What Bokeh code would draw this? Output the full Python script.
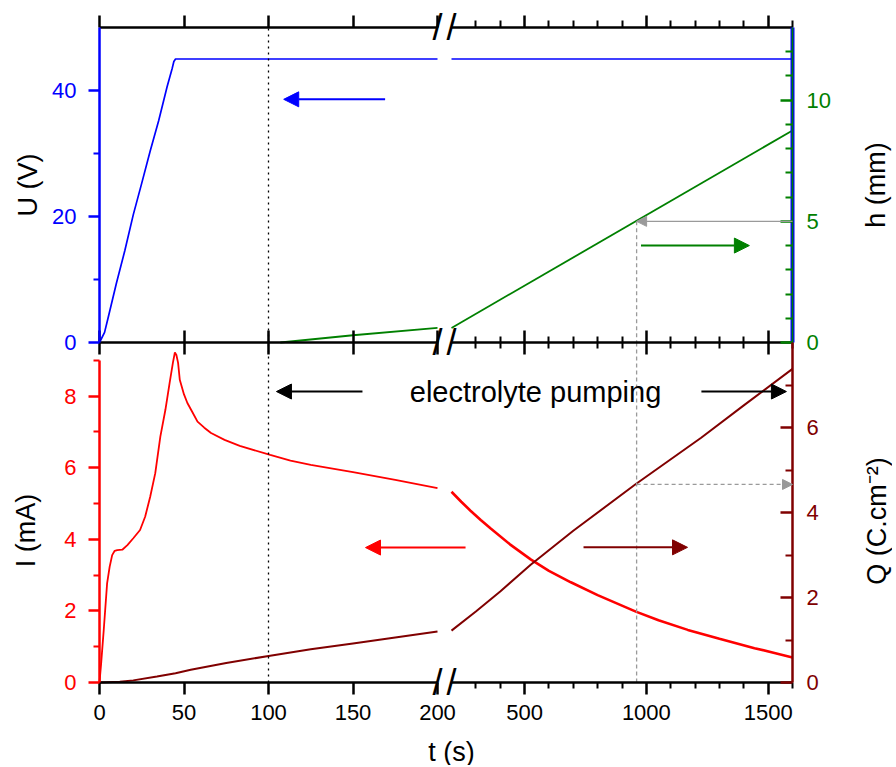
import math
from bokeh.plotting import figure
from bokeh.models import Range1d, LinearAxis, FixedTicker, Arrow, NormalHead, Label
from bokeh.embed import file_html
from bokeh.resources import INLINE

# ---------------- data ----------------
# U (V), blue
U_t_left = [0, 3, 5, 10, 15, 20, 25, 30, 35, 40, 43, 44, 45, 200]
U_left = [0.0, 1.6, 3.8, 9.4, 14.6, 20.3, 25.3, 30.4, 35.2, 40.6, 43.5, 44.6, 45.0, 45.0]
U_t_right = [200, 1600]
U_right = [45.0, 45.0]

# h (mm), green
h_t_left = [107, 150, 200]
h_left = [0.0, 0.30, 0.60]
h_t_right = [200, 1600]
h_right = [0.60, 8.75]

# I (mA), red
I_t_left = [0, 1, 2.5, 4.5, 6, 7.5, 9, 10.5, 13.5, 16.5, 20, 24, 27, 30, 33, 36, 39,
            41.5, 43.5, 44.6, 45.5, 46.5, 47.5, 50, 52, 55, 58, 62, 66, 74, 83, 101,
            113, 125, 150, 175, 200]
I_left = [0.0, 0.55, 1.46, 2.77, 3.23, 3.56, 3.68, 3.70, 3.71, 3.84, 4.03, 4.26, 4.63,
          5.19, 5.85, 6.87, 7.62, 8.37, 8.95, 9.22, 9.15, 8.93, 8.46, 8.05, 7.81, 7.55,
          7.29, 7.12, 6.97, 6.78, 6.61, 6.36, 6.20, 6.08, 5.88, 5.66, 5.43]
I_t_right = [200, 240, 278, 320, 361, 440, 525, 600, 690, 800, 957, 1050, 1170, 1300,
             1444, 1530, 1600]
I_right = [5.33, 5.05, 4.80, 4.54, 4.30, 3.86, 3.44, 3.12, 2.80, 2.44, 1.98, 1.74, 1.47,
           1.22, 0.96, 0.82, 0.70]

# Q (C.cm-2), dark red
Q_t_left = [0, 12, 20, 34, 45, 54, 75, 101, 125, 150, 175, 200]
Q_left = [0.0, 0.02, 0.05, 0.14, 0.22, 0.30, 0.46, 0.63, 0.78, 0.92, 1.06, 1.20]
Q_t_right = [200, 300, 400, 525, 700, 957, 1225, 1400, 1600]
Q_right = [1.22, 1.67, 2.14, 2.77, 3.57, 4.67, 5.76, 6.52, 7.38]

# ticks
x_ticks_left = [0, 50, 100, 150, 200]
x_ticks_right = [500, 1000, 1500]
x_minor_right = [300, 400, 600, 700, 800, 900, 1100, 1200, 1300, 1400, 1600]
U_ticks, U_minor = [0, 20, 40], [10, 30]
h_ticks, h_minor = [0, 5, 10], [1, 2, 3, 4, 6, 7, 8, 9, 11, 12]
I_ticks, I_minor = [0, 2, 4, 6, 8], [1, 3, 5, 7, 9]
Q_ticks, Q_minor = [0, 2, 4, 6], [1, 3, 5, 7]

# axis extents (data units)
T_LEFT = (0, 200)
T_RIGHT = (200, 1600)
U_LIM, H_LIM, I_LIM, Q_LIM = (0, 50), (0, 13), (0, 9.5), (0, 8)

# annotation anchors (data units)
T_PUMP_START = 100
T_REF, H_REF, Q_REF = 960, 5.0, 4.66
ARROW_U = (169, 109, 38.6)          # left scale, U
ARROW_H = (978, 1423, 4.0)          # right segment, h
ARROW_I = (216.6, 157.4, 3.77)      # left scale, I
ARROW_Q = (742, 1169, 3.18)         # right segment, Q
PUMP_LEFT = (155.6, 104.7, 8.13)    # left scale, I
PUMP_RIGHT = (1226, 1575, 8.13)     # right segment, I
PUMP_TEXT = (545, 8.13)             # right segment, I

# ---------------- layout (pixels) ----------------
FONT = "Liberation Sans"
BLUE, GREEN, RED, DARKRED, GREY = "#0000FF", "#008000", "#FF0000", "#800000", "#9a9a9a"
CANVAS_W, CANVAS_H = 892, 765
BOX_L, BOX_R, BOX_T, BOX_MID, BOX_B = 99, 792, 27, 342, 682
SEG_L_END, SEG_R_START = 437, 451


def xrange_from(v0, px0, v1, px1):
    s = (px1 - px0) / (v1 - v0)
    return Range1d(v0 - px0 / s, v1 + (CANVAS_W - px1) / s)


def yrange_from(v0, py0, v1, py1):
    s = (py0 - py1) / (v1 - v0)
    return Range1d(v0 - (CANVAS_H - py0) / s, v1 + py1 / s)


p = figure(width=CANVAS_W, height=CANVAS_H, title=None,
           x_range=xrange_from(T_LEFT[0], BOX_L, T_LEFT[1], SEG_L_END),
           y_range=yrange_from(U_LIM[0], BOX_MID, U_LIM[1], BOX_T),
           x_axis_location=None, y_axis_location=None,
           output_backend="svg", toolbar_location=None,
           min_border=0, min_border_left=0, min_border_right=0,
           min_border_top=0, min_border_bottom=0)
p.extra_x_ranges = {"right": xrange_from(T_RIGHT[0], SEG_R_START, T_RIGHT[1], BOX_R)}
p.extra_y_ranges = {
    "h": yrange_from(H_LIM[0], BOX_MID, H_LIM[1], BOX_T),
    "I": yrange_from(I_LIM[0], BOX_B, I_LIM[1], BOX_MID),
    "Q": yrange_from(Q_LIM[0], BOX_B, Q_LIM[1], BOX_MID),
}
p.xgrid.visible = False
p.ygrid.visible = False
p.outline_line_color = None
p.background_fill_color = "white"
p.border_fill_color = "white"


def x_axis(side, yname, loc, seg, t_in, t_out, m_in, m_out, labels):
    if seg == "left":
        rn, bounds, tk = "default", T_LEFT, FixedTicker(ticks=x_ticks_left)
    else:
        rn, bounds, tk = "right", T_RIGHT, FixedTicker(ticks=x_ticks_right, minor_ticks=x_minor_right)
    ax = LinearAxis(x_range_name=rn, y_range_name=yname, fixed_location=loc, bounds=bounds,
                    ticker=tk, axis_line_color="black", axis_line_width=2.5,
                    major_tick_line_color="black", major_tick_line_width=2.5,
                    minor_tick_line_color="black", minor_tick_line_width=2,
                    major_tick_in=t_in, major_tick_out=t_out,
                    minor_tick_in=m_in, minor_tick_out=m_out,
                    major_label_text_font=FONT, major_label_text_font_size="22px",
                    major_label_text_color="black" if labels else None,
                    major_label_standoff=10)
    p.add_layout(ax, side)


def y_axis(side, xname, xloc, yname, lim, ticks, minor, color, width=2.5):
    inward = side == "right"
    ax = LinearAxis(x_range_name=xname, y_range_name=yname, fixed_location=xloc, bounds=lim,
                    ticker=FixedTicker(ticks=ticks, minor_ticks=minor),
                    axis_line_color=color, axis_line_width=width,
                    major_tick_line_color=color, major_tick_line_width=2.5,
                    minor_tick_line_color=color, minor_tick_line_width=2,
                    major_tick_in=12 if inward else 0, major_tick_out=0 if inward else 11,
                    minor_tick_in=7 if inward else 0, minor_tick_out=0 if inward else 6,
                    major_label_text_color=color, major_label_text_font=FONT,
                    major_label_text_font_size="22px",
                    major_label_standoff=14 if inward else 12)
    p.add_layout(ax, side)
    return ax


def title(text, x, y, xr, yr, xoff=0, yoff=0, angle=0.0, size="27px", style="normal"):
    p.add_layout(Label(x=x, y=y, x_range_name=xr, y_range_name=yr, x_offset=xoff,
                       y_offset=yoff, angle=angle, text=text, text_font=FONT,
                       text_font_size=size, text_font_style=style, text_align="center",
                       text_baseline="middle", text_color="black"))


def arrow(x0, x1, y, color, size, xr="default", yr="default", dash="solid", width=2.0):
    p.add_layout(Arrow(end=NormalHead(size=size, fill_color=color, line_color=color, line_width=1),
                       x_start=x0, y_start=y, x_end=x1, y_end=y,
                       line_color=color, line_width=width, line_dash=dash,
                       x_range_name=xr, y_range_name=yr))


# ---------------- curves ----------------
p.line(U_t_left, U_left, line_color=BLUE, line_width=1.7)
p.line(U_t_right, U_right, line_color=BLUE, line_width=1.7, x_range_name="right")
p.line(h_t_left, h_left, line_color=GREEN, line_width=1.8, y_range_name="h")
p.line(h_t_right, h_right, line_color=GREEN, line_width=1.8, x_range_name="right", y_range_name="h")
p.line(I_t_left, I_left, line_color=RED, line_width=1.8, y_range_name="I")
p.line(I_t_right, I_right, line_color=RED, line_width=2.6, x_range_name="right", y_range_name="I")
p.line(Q_t_left, Q_left, line_color=DARKRED, line_width=2, y_range_name="Q")
p.line(Q_t_right, Q_right, line_color=DARKRED, line_width=2, x_range_name="right", y_range_name="Q")

# ---------------- guide lines ----------------
p.segment(x0=[T_PUMP_START], y0=[U_LIM[0]], x1=[T_PUMP_START], y1=[U_LIM[1]],
          line_color="black", line_width=1.3, line_dash="2 4")
p.segment(x0=[T_PUMP_START], y0=[I_LIM[0]], x1=[T_PUMP_START], y1=[I_LIM[1]],
          line_color="black", line_width=1.3, line_dash="2 4", y_range_name="I")
p.segment(x0=[T_REF], y0=[H_REF], x1=[T_REF], y1=[H_LIM[0]], line_color=GREY, line_width=1.3,
          line_dash="4 3", x_range_name="right", y_range_name="h")
p.segment(x0=[T_REF], y0=[I_LIM[0]], x1=[T_REF], y1=[I_LIM[1]], line_color=GREY, line_width=1.3,
          line_dash="4 3", x_range_name="right", y_range_name="I")
arrow(T_RIGHT[1], T_REF, H_REF, GREY, 10, xr="right", yr="h", width=1.3)
arrow(T_REF, T_RIGHT[1], Q_REF, GREY, 10, xr="right", yr="Q", dash="4 3", width=1.3)

# ---------------- direction arrows ----------------
arrow(ARROW_U[0], ARROW_U[1], ARROW_U[2], BLUE, 15)
arrow(ARROW_H[0], ARROW_H[1], ARROW_H[2], GREEN, 15, xr="right", yr="h")
arrow(ARROW_I[0], ARROW_I[1], ARROW_I[2], RED, 15, yr="I")
arrow(ARROW_Q[0], ARROW_Q[1], ARROW_Q[2], DARKRED, 15, xr="right", yr="Q")
arrow(PUMP_LEFT[0], PUMP_LEFT[1], PUMP_LEFT[2], "black", 15, yr="I")
arrow(PUMP_RIGHT[0], PUMP_RIGHT[1], PUMP_RIGHT[2], "black", 15, xr="right", yr="I")
title("electrolyte pumping", PUMP_TEXT[0], PUMP_TEXT[1], "right", "I", size="29px")

# ---------------- axes ----------------
for seg in ("left", "right"):
    x_axis("above", "default", U_LIM[1], seg, 0, 12, 0, 7, False)     # top edge
    x_axis("below", "default", U_LIM[0], seg, 12, 12, 6, 6, False)   # panel divider
    x_axis("below", "I", I_LIM[0], seg, 0, 12, 0, 6, True)           # bottom edge
y_axis("left", "default", T_LEFT[0], "default", U_LIM, U_ticks, U_minor, BLUE)
y_axis("left", "default", T_LEFT[0], "I", (0, 9), I_ticks, I_minor, RED)
# mirrored U axis line at the right edge of the top panel (no ticks), under the h axis
mirror = LinearAxis(x_range_name="right", y_range_name="default", fixed_location=T_RIGHT[1],
                    bounds=U_LIM, ticker=FixedTicker(ticks=[]), axis_line_color=BLUE,
                    axis_line_width=4, major_tick_line_color=None, minor_tick_line_color=None,
                    major_label_text_color=None)
p.add_layout(mirror, "right")
y_axis("right", "right", T_RIGHT[1], "h", H_LIM, h_ticks, h_minor, GREEN, width=1.6)
y_axis("right", "right", T_RIGHT[1], "Q", Q_LIM, Q_ticks, Q_minor, DARKRED)

# axis break marks
for rn in ("default", "right"):
    for yv, yr in ((U_LIM[1], "default"), (U_LIM[0], "default"), (I_LIM[0], "I")):
        p.add_layout(Label(x=200, y=yv, x_range_name=rn, y_range_name=yr, text="/",
                           text_font=FONT, text_font_size="36px", text_font_style="normal",
                           text_align="center", text_baseline="middle", text_color="black"))

# ---------------- axis titles ----------------
title("U (V)", T_LEFT[0], 25, "default", "default", xoff=-72, angle=math.pi / 2)
title("I (mA)", T_LEFT[0], 4.25, "default", "I", xoff=-74, angle=math.pi / 2)
title("h (mm)", T_RIGHT[1], 6.5, "right", "h", xoff=83, angle=math.pi / 2)
title("Q (C.cm\u207b\u00b2)", T_RIGHT[1], 3.8, "right", "Q", xoff=84, angle=math.pi / 2)
title("t (s)", T_RIGHT[0], I_LIM[0], "right", "I", yoff=-69)

open("out.html", "w").write(file_html(p, INLINE, title="U, h, I, Q vs t"))
